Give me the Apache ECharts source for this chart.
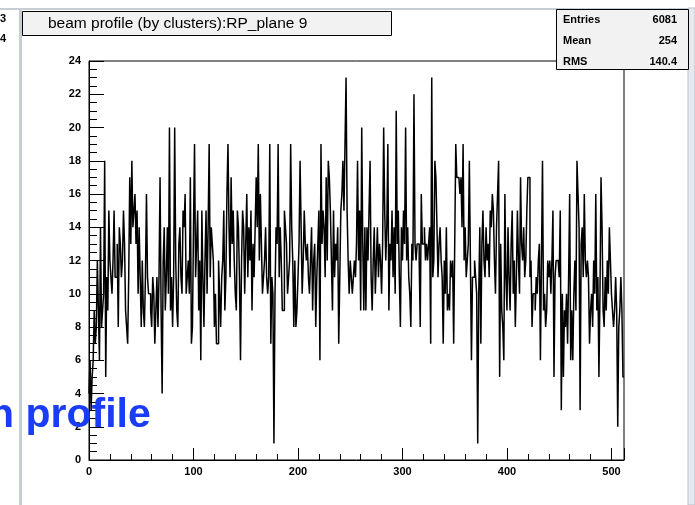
<!DOCTYPE html>
<html>
<head>
<meta charset="utf-8">
<script src="https://cdn.jsdelivr.net/npm/echarts@6/dist/echarts.min.js"></script>
<style>
html, body { margin: 0; padding: 0; background: #fff; }
#chart { width: 695px; height: 505px; }
</style>
</head>
<body>
<div id="chart"></div>
<script>
// 512 bins of width 1, 16 bins per row
const binValues = [
  4,6,3,5,6,9,7,8,12,9,6,14,8,9,10,18,
  5,11,9,15,12,11,10,12,15,11,11,13,8,14,13,11,
  12,15,13,9,8,7,11,17,13,18,14,15,16,13,15,10,
  14,11,8,12,9,8,11,16,11,10,10,9,8,11,10,7,
  9,11,8,11,17,9,4,12,14,9,11,14,10,20,9,11,
  8,11,20,12,9,8,13,14,11,10,15,14,16,10,11,12,
  10,17,7,8,14,19,11,13,15,9,12,6,15,11,8,12,
  15,10,14,19,11,14,13,12,8,10,7,7,12,10,8,11,
  12,15,9,11,16,19,14,11,17,13,15,12,10,9,15,14,
  11,6,12,15,14,10,13,16,11,14,12,15,9,13,11,14,
  17,14,19,12,16,13,10,11,12,14,11,10,11,19,7,11,
  10,1,10,14,13,19,11,14,12,9,9,15,14,13,10,11,
  12,19,14,12,8,12,8,9,11,13,18,14,10,12,15,13,
  12,13,11,10,12,14,9,12,13,8,11,13,15,6,19,13,
  15,14,11,17,12,18,17,15,12,9,15,11,13,12,14,7,
  11,15,16,18,15,19,23,15,12,10,12,11,10,11,12,11,
  13,18,12,15,9,20,13,9,14,9,14,12,15,18,11,9,
  12,14,10,12,14,11,13,12,10,13,20,15,12,14,19,9,
  13,12,15,11,14,10,21,13,15,11,8,14,12,15,13,20,
  12,14,11,10,8,13,12,22,13,12,13,13,12,8,16,13,
  13,14,12,13,12,13,14,7,23,11,12,18,17,14,11,13,
  14,12,11,7,12,10,14,9,10,9,12,11,12,7,13,19,
  17,17,17,16,17,14,19,12,14,11,12,13,18,12,6,11,
  11,12,11,10,1,10,14,7,13,15,12,11,14,12,13,11,
  15,14,16,15,12,10,14,16,18,5,13,9,8,6,16,11,
  9,14,11,9,13,15,10,12,8,11,15,12,10,17,13,12,
  14,11,12,15,17,17,11,12,8,10,10,9,11,10,12,13,
  6,12,18,9,10,8,9,12,11,12,10,12,15,5,11,12,
  12,12,11,15,3,10,5,9,8,10,7,11,16,6,9,6,
  10,12,9,18,16,14,3,13,14,11,16,12,11,12,11,7,
  9,10,8,12,10,16,9,11,5,10,17,14,9,8,11,9,
  12,10,14,12,10,9,8,9,11,9,2,8,9,11,9,5
];
const xTickLabels = [0, 100, 200, 300, 400, 500];
const yTickLabels = [0, 2, 4, 6, 8, 10, 12, 14, 16, 18, 20, 22, 24];
const statNames = ["Entries", "Mean", "RMS"];
const statValues = ["6081", "254", "140.4"];
const histTitle = "beam profile (by clusters):RP_plane 9";
const slideTitle = "n profile";

const font = "'Liberation Sans', Arial, sans-serif";

// step line: bin i drawn from i to i+1
let points = binValues.map((v, i) => [i, v]);
points.push([binValues.length, binValues[binValues.length - 1]]);

let chart = echarts.init(document.getElementById("chart"));

let graphics = [
  { type: "rect", shape: { x: 0, y: 8, width: 695, height: 2 }, style: { fill: "#c6cdd5" }, z: 1 },
  { type: "rect", shape: { x: 19, y: 8, width: 3, height: 497 }, style: { fill: "#c6cdd5" }, z: 1 },
  { type: "rect", shape: { x: 688, y: 8, width: 7, height: 497 }, style: { fill: "#e6eaee", stroke: "#b9c1c9", lineWidth: 1 }, z: 1 },
  { type: "text", x: 0, y: 13, style: { text: "3", font: "bold 11px " + font, fill: "#000" } },
  { type: "text", x: 0, y: 33, style: { text: "4", font: "bold 11px " + font, fill: "#000" } },
  // title pave
  { type: "rect", shape: { x: 22.5, y: 11.5, width: 369, height: 24 }, style: { fill: "#f2f2f2", stroke: "#000", lineWidth: 1 }, z: 2 },
  { type: "text", x: 48, y: 24, style: { text: histTitle, font: "15.5px " + font, fill: "#000", textVerticalAlign: "middle" }, z: 3 },
  // stats pave
  { type: "rect", shape: { x: 556.5, y: 9.5, width: 132, height: 60 }, style: { fill: "#f2f2f2", stroke: "#000", lineWidth: 1 }, z: 2 }
];
statNames.forEach((name, i) => {
  let y = 20 + i * 21;
  graphics.push({ type: "text", x: 563, y: y, style: { text: name, font: "bold 11px " + font, fill: "#000", textVerticalAlign: "middle" }, z: 3 });
  graphics.push({ type: "text", x: 677, y: y, style: { text: statValues[i], font: "bold 11px " + font, fill: "#000", textAlign: "right", textVerticalAlign: "middle" }, z: 3 });
});
graphics.push({ type: "text", x: -11, y: 416, style: { text: slideTitle, font: "bold 41px " + font, fill: "#1a3cf5", textVerticalAlign: "middle" }, z: 10 });

chart.setOption({
  animation: false,
  backgroundColor: "#fff",
  grid: { left: 89, right: 71, top: 61, bottom: 45, show: true, borderColor: "#000", borderWidth: 1 },
  xAxis: [
    {
      type: "value", min: 0, max: 512, interval: 20,
      axisLine: { lineStyle: { color: "#000", width: 1 } },
      axisTick: { inside: true, length: 6, lineStyle: { color: "#000" } },
      axisLabel: {
        color: "#000", fontFamily: font, fontWeight: "bold", fontSize: 11, margin: 6,
        formatter: v => (xTickLabels.indexOf(v) >= 0 ? String(v) : "")
      },
      splitLine: { show: false }
    },
    {
      type: "value", min: 0, max: 512, interval: 100, position: "bottom",
      axisLine: { show: false },
      axisTick: { inside: true, length: 12, lineStyle: { color: "#000" } },
      axisLabel: { show: false },
      splitLine: { show: false }
    }
  ],
  yAxis: {
    type: "value", min: yTickLabels[0], max: yTickLabels[yTickLabels.length - 1], interval: 2,
    axisLine: { show: true, lineStyle: { color: "#000", width: 1 } },
    axisTick: { show: true, inside: true, length: 15, lineStyle: { color: "#000" } },
    minorTick: { show: true, splitNumber: 4, length: 8, lineStyle: { color: "#000" } },
    axisLabel: { color: "#000", fontFamily: font, fontWeight: "bold", fontSize: 11, margin: 8 },
    splitLine: { show: false }
  },
  series: [{
    type: "line",
    step: "end",
    data: points,
    symbol: "none",
    lineStyle: { color: "#000", width: 1.5 },
    silent: true
  }],
  graphic: graphics
});
</script>
</body>
</html>
